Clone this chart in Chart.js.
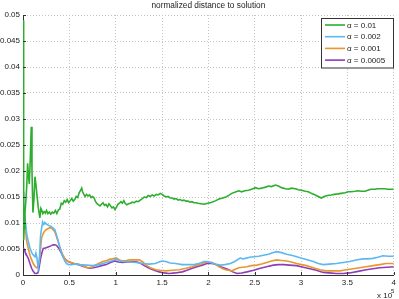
<!DOCTYPE html>
<html><head><meta charset="utf-8">
<script src="https://cdn.jsdelivr.net/npm/chart.js@4/dist/chart.umd.min.js"></script>
<style>html,body{margin:0;padding:0;background:#fff}#wrap{width:399px;height:299px}</style>
</head><body><div id="wrap"><canvas id="c" width="399" height="299"></canvas></div>
<script>
const titleText = "normalized distance to solution";
const seriesLabels = ["α = 0.01", "α = 0.002", "α = 0.001", "α = 0.0005"];
const seriesColors = ["#2eae2e", "#5cb8f2", "#e8962e", "#8e3cb8"];
const xTicks = [0, 0.5, 1, 1.5, 2, 2.5, 3, 3.5, 4];
const yTicks = [0, 0.005, 0.01, 0.015, 0.02, 0.025, 0.03, 0.035, 0.04, 0.045, 0.05];

const greenX = [0.004,0.007,0.013,0.021,0.032,0.04,0.05,0.059,0.068,0.078,0.089,0.097,0.107,0.118,0.129,0.139,0.15,0.164,0.177,0.182,0.193,0.204,0.214,0.228,0.241,0.254,0.268,0.284,0.3,0.316,0.332,0.349,0.365,0.381,0.397,0.413,0.429,0.445,0.461,0.477,0.493,0.509,0.525,0.542,0.558,0.574,0.59,0.606,0.622,0.633,0.643,0.654,0.67,0.686,0.702,0.718,0.735,0.751,0.767,0.783,0.799,0.815,0.831,0.847,0.863,0.879,0.895,0.912,0.928,0.944,0.96,0.976,0.992,1.008,1.024,1.04,1.056,1.072,1.088,1.105,1.121,1.137,1.158,1.18,1.201,1.223,1.244,1.265,1.287,1.308,1.33,1.351,1.373,1.394,1.416,1.437,1.458,1.48,1.501,1.523,1.544,1.566,1.587,1.609,1.63,1.651,1.673,1.694,1.716,1.737,1.759,1.78,1.802,1.823,1.845,1.866,1.887,1.92,1.952,1.995,2.038,2.08,2.113,2.156,2.188,2.22,2.252,2.284,2.327,2.359,2.391,2.434,2.466,2.509,2.542,2.574,2.617,2.649,2.681,2.724,2.756,2.788,2.831,2.863,2.895,2.938,2.971,3.003,3.046,3.078,3.11,3.153,3.185,3.217,3.249,3.282,3.324,3.357,3.399,3.432,3.475,3.507,3.539,3.582,3.614,3.646,3.689,3.721,3.753,3.796,3.828,3.871,3.903,3.936,3.968,4.0];
const greenY = [0.049,0.0067,0.009,0.012,0.0145,0.017,0.0215,0.019,0.0175,0.022,0.0285,0.02,0.012,0.0145,0.0189,0.0175,0.0155,0.0131,0.0115,0.011,0.0128,0.0124,0.0118,0.0122,0.0119,0.0124,0.0118,0.0121,0.0117,0.0121,0.0119,0.0124,0.0118,0.0125,0.0127,0.0138,0.0136,0.0143,0.014,0.0145,0.0139,0.0143,0.0147,0.0142,0.0145,0.0151,0.0149,0.0158,0.0163,0.0167,0.016,0.0156,0.0151,0.0155,0.0152,0.0154,0.0149,0.0151,0.0148,0.0141,0.0137,0.0135,0.0133,0.0136,0.0139,0.0134,0.0136,0.0131,0.0137,0.0133,0.0129,0.0131,0.0126,0.013,0.0136,0.0138,0.0141,0.0138,0.0143,0.0137,0.0135,0.0137,0.0138,0.014,0.0139,0.0142,0.0141,0.0144,0.0147,0.015,0.0149,0.0153,0.0151,0.0154,0.0152,0.0155,0.0154,0.0157,0.0155,0.0152,0.015,0.0151,0.0148,0.0148,0.0146,0.0147,0.0144,0.0145,0.0143,0.0144,0.0142,0.0142,0.014,0.0141,0.0139,0.0139,0.0138,0.0137,0.0136,0.0138,0.014,0.0143,0.0146,0.0148,0.015,0.0153,0.0157,0.0159,0.0162,0.016,0.0162,0.0163,0.0165,0.0168,0.0166,0.0167,0.0169,0.0171,0.017,0.0173,0.0171,0.0168,0.0166,0.0165,0.0167,0.0166,0.0164,0.0163,0.0161,0.016,0.0157,0.0154,0.0151,0.0148,0.0151,0.0153,0.0154,0.0155,0.0156,0.0157,0.0158,0.016,0.016,0.0161,0.0162,0.0161,0.0161,0.0163,0.0165,0.0165,0.0166,0.0166,0.0166,0.0165,0.0165,0.0165];

const blueX = [0.004,0.008,0.021,0.043,0.075,0.097,0.113,0.129,0.139,0.15,0.164,0.177,0.19,0.211,0.225,0.236,0.252,0.271,0.29,0.308,0.325,0.343,0.361,0.379,0.397,0.415,0.432,0.45,0.469,0.493,0.522,0.558,0.611,0.683,0.751,0.826,0.879,0.933,0.971,1.005,1.029,1.072,1.147,1.219,1.287,1.362,1.426,1.469,1.501,1.541,1.587,1.648,1.716,1.791,1.845,1.898,1.952,1.984,2.024,2.07,2.131,2.177,2.238,2.284,2.345,2.37,2.399,2.445,2.488,2.542,2.595,2.649,2.692,2.738,2.788,2.845,2.917,2.989,3.056,3.131,3.185,3.239,3.303,3.381,3.453,3.525,3.592,3.668,3.721,3.775,3.828,3.882,3.946,4.0];
const blueY = [0.016,0.014,0.011,0.0075,0.0052,0.0042,0.0038,0.0035,0.0042,0.0033,0.0013,0.003,0.0077,0.0102,0.0097,0.0101,0.0098,0.0096,0.0094,0.0093,0.009,0.0087,0.0077,0.0066,0.0054,0.0043,0.0035,0.0027,0.0022,0.002,0.002,0.0021,0.002,0.0019,0.0018,0.002,0.0023,0.0026,0.0028,0.0031,0.0028,0.0026,0.0025,0.0024,0.0022,0.0021,0.0022,0.0025,0.0027,0.0026,0.0023,0.0022,0.002,0.002,0.002,0.0022,0.0026,0.0026,0.0024,0.0021,0.0019,0.002,0.0022,0.0026,0.0033,0.0031,0.0032,0.0034,0.0035,0.0036,0.0038,0.004,0.0043,0.0045,0.0043,0.004,0.0037,0.0033,0.003,0.0026,0.0022,0.002,0.0021,0.0022,0.0024,0.0026,0.0029,0.0031,0.0031,0.0032,0.0034,0.0037,0.0036,0.0036];

const orangeX = [0.004,0.008,0.021,0.04,0.059,0.075,0.091,0.11,0.129,0.147,0.161,0.175,0.188,0.2,0.218,0.236,0.257,0.29,0.308,0.325,0.343,0.361,0.379,0.397,0.415,0.432,0.456,0.486,0.52,0.558,0.59,0.629,0.665,0.697,0.718,0.751,0.79,0.826,0.861,0.901,0.933,0.965,1.005,1.04,1.076,1.115,1.147,1.201,1.255,1.292,1.327,1.373,1.434,1.48,1.541,1.609,1.684,1.759,1.826,1.877,1.916,1.952,1.995,2.041,2.08,2.113,2.145,2.184,2.22,2.255,2.29,2.327,2.37,2.416,2.466,2.523,2.574,2.63,2.681,2.738,2.788,2.845,2.895,2.952,3.003,3.059,3.131,3.203,3.271,3.346,3.421,3.488,3.56,3.632,3.7,3.775,3.85,3.917,4.0];
const orangeY = [0.012,0.0125,0.0095,0.0064,0.005,0.0038,0.003,0.0022,0.0017,0.0014,0.0015,0.0026,0.0048,0.0071,0.008,0.0085,0.0088,0.0091,0.009,0.0087,0.0083,0.0074,0.0064,0.0054,0.0045,0.0038,0.003,0.0026,0.0024,0.0022,0.0021,0.0019,0.0016,0.0014,0.0014,0.0016,0.002,0.0023,0.0026,0.0028,0.003,0.0031,0.0033,0.0029,0.0027,0.0028,0.0029,0.0029,0.0029,0.0025,0.0019,0.0014,0.001,0.0009,0.0008,0.0009,0.001,0.0013,0.0016,0.0019,0.002,0.0024,0.0025,0.0024,0.002,0.0016,0.0013,0.001,0.0009,0.0008,0.0011,0.0014,0.0015,0.0016,0.0018,0.0019,0.0021,0.0024,0.0027,0.0029,0.0028,0.0027,0.0025,0.0022,0.002,0.0018,0.0014,0.001,0.0008,0.0008,0.0008,0.001,0.0012,0.0014,0.0016,0.0018,0.002,0.0022,0.0022];

const purpleX = [0.004,0.011,0.021,0.04,0.057,0.075,0.093,0.11,0.129,0.147,0.164,0.177,0.19,0.204,0.218,0.241,0.271,0.3,0.325,0.343,0.361,0.379,0.397,0.415,0.432,0.456,0.486,0.515,0.539,0.579,0.629,0.676,0.718,0.761,0.808,0.847,0.898,0.944,0.987,1.029,1.076,1.126,1.183,1.233,1.273,1.308,1.362,1.416,1.469,1.523,1.576,1.641,1.719,1.769,1.826,1.877,1.934,1.984,2.041,2.08,2.131,2.177,2.22,2.263,2.309,2.359,2.416,2.488,2.56,2.627,2.702,2.756,2.81,2.874,2.952,3.024,3.096,3.164,3.239,3.303,3.381,3.453,3.525,3.614,3.703,3.775,3.847,3.925,4.0];
const purpleY = [0.0052,0.005,0.0045,0.0038,0.0032,0.0022,0.0013,0.0007,0.0003,0.0003,0.0005,0.0018,0.0032,0.0043,0.0051,0.0052,0.0054,0.0056,0.0058,0.0058,0.0057,0.0053,0.0048,0.0042,0.0035,0.003,0.0026,0.0024,0.0022,0.0021,0.0018,0.0015,0.0013,0.0014,0.0016,0.0018,0.002,0.0024,0.0027,0.0025,0.0024,0.0025,0.0026,0.0025,0.0022,0.0018,0.0013,0.0009,0.0006,0.0004,0.0003,0.0004,0.0006,0.0009,0.0013,0.0016,0.0019,0.0022,0.0022,0.002,0.0016,0.0013,0.001,0.0006,0.0003,0.0004,0.0006,0.0009,0.0013,0.0016,0.0019,0.002,0.002,0.0019,0.0018,0.0015,0.0012,0.0009,0.0005,0.0004,0.0003,0.0003,0.0004,0.0007,0.001,0.0012,0.0014,0.0015,0.0016];

const FONT = "'Liberation Sans', Arial, sans-serif";
const toPts = (xs, ys) => xs.map((x, i) => ({x: x, y: ys[i]}));
const seriesX = [greenX, blueX, orangeX, purpleX];
const seriesY = [greenY, blueY, orangeY, purpleY];

const decor = {
  id: 'decor',
  afterDraw(chart) {
    const ctx = chart.ctx, a = chart.chartArea;
    const xs = chart.scales.x, ys = chart.scales.y;
    ctx.save();
    ctx.strokeStyle = '#333'; ctx.lineWidth = 1;
    ctx.beginPath();
    yTicks.forEach(v => { const y = Math.round(ys.getPixelForValue(v)) + 0.5; ctx.moveTo(a.left, y); ctx.lineTo(a.left + 3, y); });
    xTicks.forEach(v => { const x = Math.round(xs.getPixelForValue(v)) + 0.5; ctx.moveTo(x, a.bottom); ctx.lineTo(x, a.bottom - 3); });
    ctx.stroke();
    ctx.fillStyle = '#222';
    ctx.font = '8.3px ' + FONT;
    ctx.textAlign = 'center'; ctx.textBaseline = 'middle';
    ctx.fillText(titleText, (a.left + a.right) / 2, 6);
    ctx.font = '8px ' + FONT;
    ctx.textAlign = 'left'; ctx.textBaseline = 'alphabetic';
    ctx.fillText('x 10', 377, 298);
    ctx.font = '6px ' + FONT;
    ctx.fillText('5', 391, 293);
    const lx = 321.5, ly = 18.5, lw = 72, lh = 49.5;
    ctx.fillStyle = '#fff'; ctx.fillRect(lx, ly, lw, lh);
    ctx.strokeStyle = '#333'; ctx.lineWidth = 1; ctx.strokeRect(lx, ly, lw, lh);
    ctx.font = '8px ' + FONT; ctx.textBaseline = 'middle';
    seriesLabels.forEach((lab, i) => {
      const y = 25 + i * 11.7;
      ctx.strokeStyle = seriesColors[i]; ctx.lineWidth = 1.6;
      ctx.beginPath(); ctx.moveTo(325, y); ctx.lineTo(345, y); ctx.stroke();
      ctx.fillStyle = '#222'; ctx.fillText(lab, 347, y + 0.5);
    });
    ctx.restore();
  }
};

new Chart(document.getElementById('c'), {
  type: 'line',
  data: {
    datasets: seriesLabels.map((lab, i) => ({
      label: lab,
      data: toPts(seriesX[i], seriesY[i]),
      borderColor: seriesColors[i],
      borderWidth: 1.6,
      pointRadius: 0,
      tension: 0,
      fill: false
    }))
  },
  options: {
    responsive: false,
    animation: false,
    devicePixelRatio: 1,
    layout: {padding: {top: 15, right: 3, left: 0, bottom: 0}},
    plugins: {legend: {display: false}, title: {display: false}, tooltip: {enabled: false}},
    scales: {
      x: {
        type: 'linear', min: 0, max: 4,
        afterBuildTicks: s => { s.ticks = xTicks.map(v => ({value: v})); },
        afterFit: s => { s.height = 24; },
        ticks: {font: {size: 8, family: FONT}, color: '#222', padding: 3, maxRotation: 0, autoSkip: false,
                callback: v => String(+(+v).toFixed(2))},
        grid: {color: '#c4c4c4', lineWidth: 1, drawTicks: false},
        border: {color: '#333', width: 1, dash: [1, 2]}
      },
      y: {
        type: 'linear', min: 0, max: 0.05,
        afterBuildTicks: s => { s.ticks = yTicks.map(v => ({value: v})); },
        afterFit: s => { s.width = 23; },
        ticks: {font: {size: 8, family: FONT}, color: '#222', padding: 3, autoSkip: false,
                callback: v => String(+(+v).toFixed(4))},
        grid: {color: '#c4c4c4', lineWidth: 1, drawTicks: false},
        border: {color: '#333', width: 1, dash: [1, 2]}
      }
    }
  },
  plugins: [decor]
});
</script></body></html>
